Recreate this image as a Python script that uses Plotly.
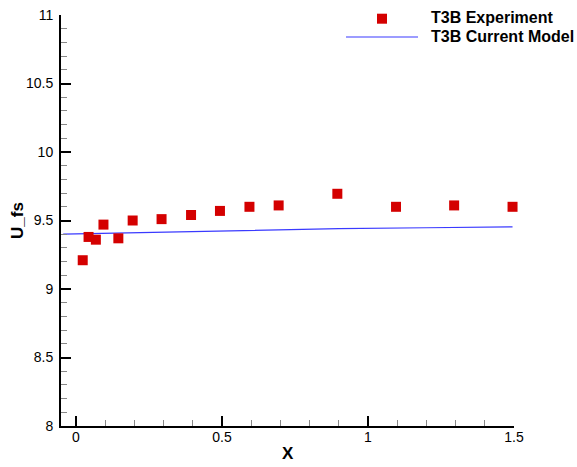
import plotly.graph_objects as go

# T3B experiment: free-stream velocity along the plate
x_exp = [0.023, 0.043, 0.068, 0.094, 0.145, 0.194, 0.293, 0.394, 0.493,
         0.594, 0.694, 0.895, 1.096, 1.295, 1.495]
u_exp = [9.21, 9.38, 9.36, 9.47, 9.37, 9.50, 9.51, 9.54, 9.57,
         9.60, 9.61, 9.695, 9.60, 9.61, 9.60]

# current model prediction
x_model = [-0.044, 0.3, 0.6, 0.9, 1.2, 1.495]
u_model = [9.40, 9.415, 9.43, 9.44, 9.447, 9.454]

legend_names = ["T3B Experiment", "T3B Current Model"]
x_title = "X"
y_title = "U_fs"

RED = "#d40000"
BLUE = "#3a3aff"
FONT = "Liberation Sans, Arial, Helvetica, sans-serif"

fig = go.Figure()
fig.add_trace(go.Scatter(
    x=x_model, y=u_model, mode="lines", name=legend_names[1],
    line=dict(color=BLUE, width=1.2), showlegend=False, cliponaxis=True))
fig.add_trace(go.Scatter(
    x=x_exp, y=u_exp, mode="markers", name=legend_names[0],
    marker=dict(symbol="square", size=10, color=RED, line=dict(width=0)),
    showlegend=False, cliponaxis=False))

# hand-placed legend (paper coordinates)
fig.add_shape(type="rect", xref="paper", yref="paper",
              xsizemode="pixel", ysizemode="pixel",
              xanchor=0.7086, yanchor=0.9910, x0=-5, x1=5, y0=-5, y1=5,
              fillcolor=RED, line=dict(width=0))
fig.add_shape(type="line", xref="paper", yref="paper",
              x0=0.6291, x1=0.7881, y0=0.9465, y1=0.9465,
              line=dict(color=BLUE, width=1.2))
fig.add_annotation(text=f"<b>{legend_names[0]}</b>", xref="paper", yref="paper",
                   x=0.8130, y=0.9944, xanchor="left", yanchor="middle",
                   showarrow=False, font=dict(family=FONT, size=16, color="black"))
fig.add_annotation(text=f"<b>{legend_names[1]}</b>", xref="paper", yref="paper",
                   x=0.8130, y=0.9489, xanchor="left", yanchor="middle",
                   showarrow=False, font=dict(family=FONT, size=16, color="black"))

# axis titles
fig.add_annotation(text=f"<b>{x_title}</b>", xref="paper", yref="paper",
                   x=0.5011, y=-0.0657, xanchor="center", yanchor="middle",
                   showarrow=False, font=dict(family=FONT, size=17, color="black"))
fig.add_annotation(text=f"<b>{y_title}</b>", xref="paper", yref="paper",
                   x=-0.0960, y=0.5, xanchor="center", yanchor="middle",
                   textangle=-90, showarrow=False,
                   font=dict(family=FONT, size=17, color="black"))

axis_common = dict(
    showgrid=False, zeroline=False, showline=True, linecolor="black", linewidth=2,
    ticks="inside", ticklen=10, tickwidth=2, tickcolor="black",
    tickfont=dict(family=FONT, size=14, color="black"),
    minor=dict(ticks="inside", ticklen=6, tickwidth=1, tickcolor="#888888",
               dtick=0.1, showgrid=False),
    mirror=False, automargin=False,
)

fig.update_layout(
    width=577, height=467,
    margin=dict(l=61, r=63, t=15, b=41, pad=0, autoexpand=False),
    paper_bgcolor="white", plot_bgcolor="white",
    xaxis=dict(axis_common, range=[-0.0514, 1.5], tick0=0, dtick=0.5,
               tickvals=[0, 0.5, 1, 1.5], ticktext=["0", "0.5", "1", "1.5"],
               ticklabelstandoff=-3),
    yaxis=dict(axis_common, range=[8, 11], tick0=8, dtick=0.5,
               tickvals=[8, 8.5, 9, 9.5, 10, 10.5, 11],
               ticktext=["8", "8.5", "9", "9.5", "10", "10.5", "11"],
               ticklabelstandoff=3),
)

fig.write_html("out.html")
